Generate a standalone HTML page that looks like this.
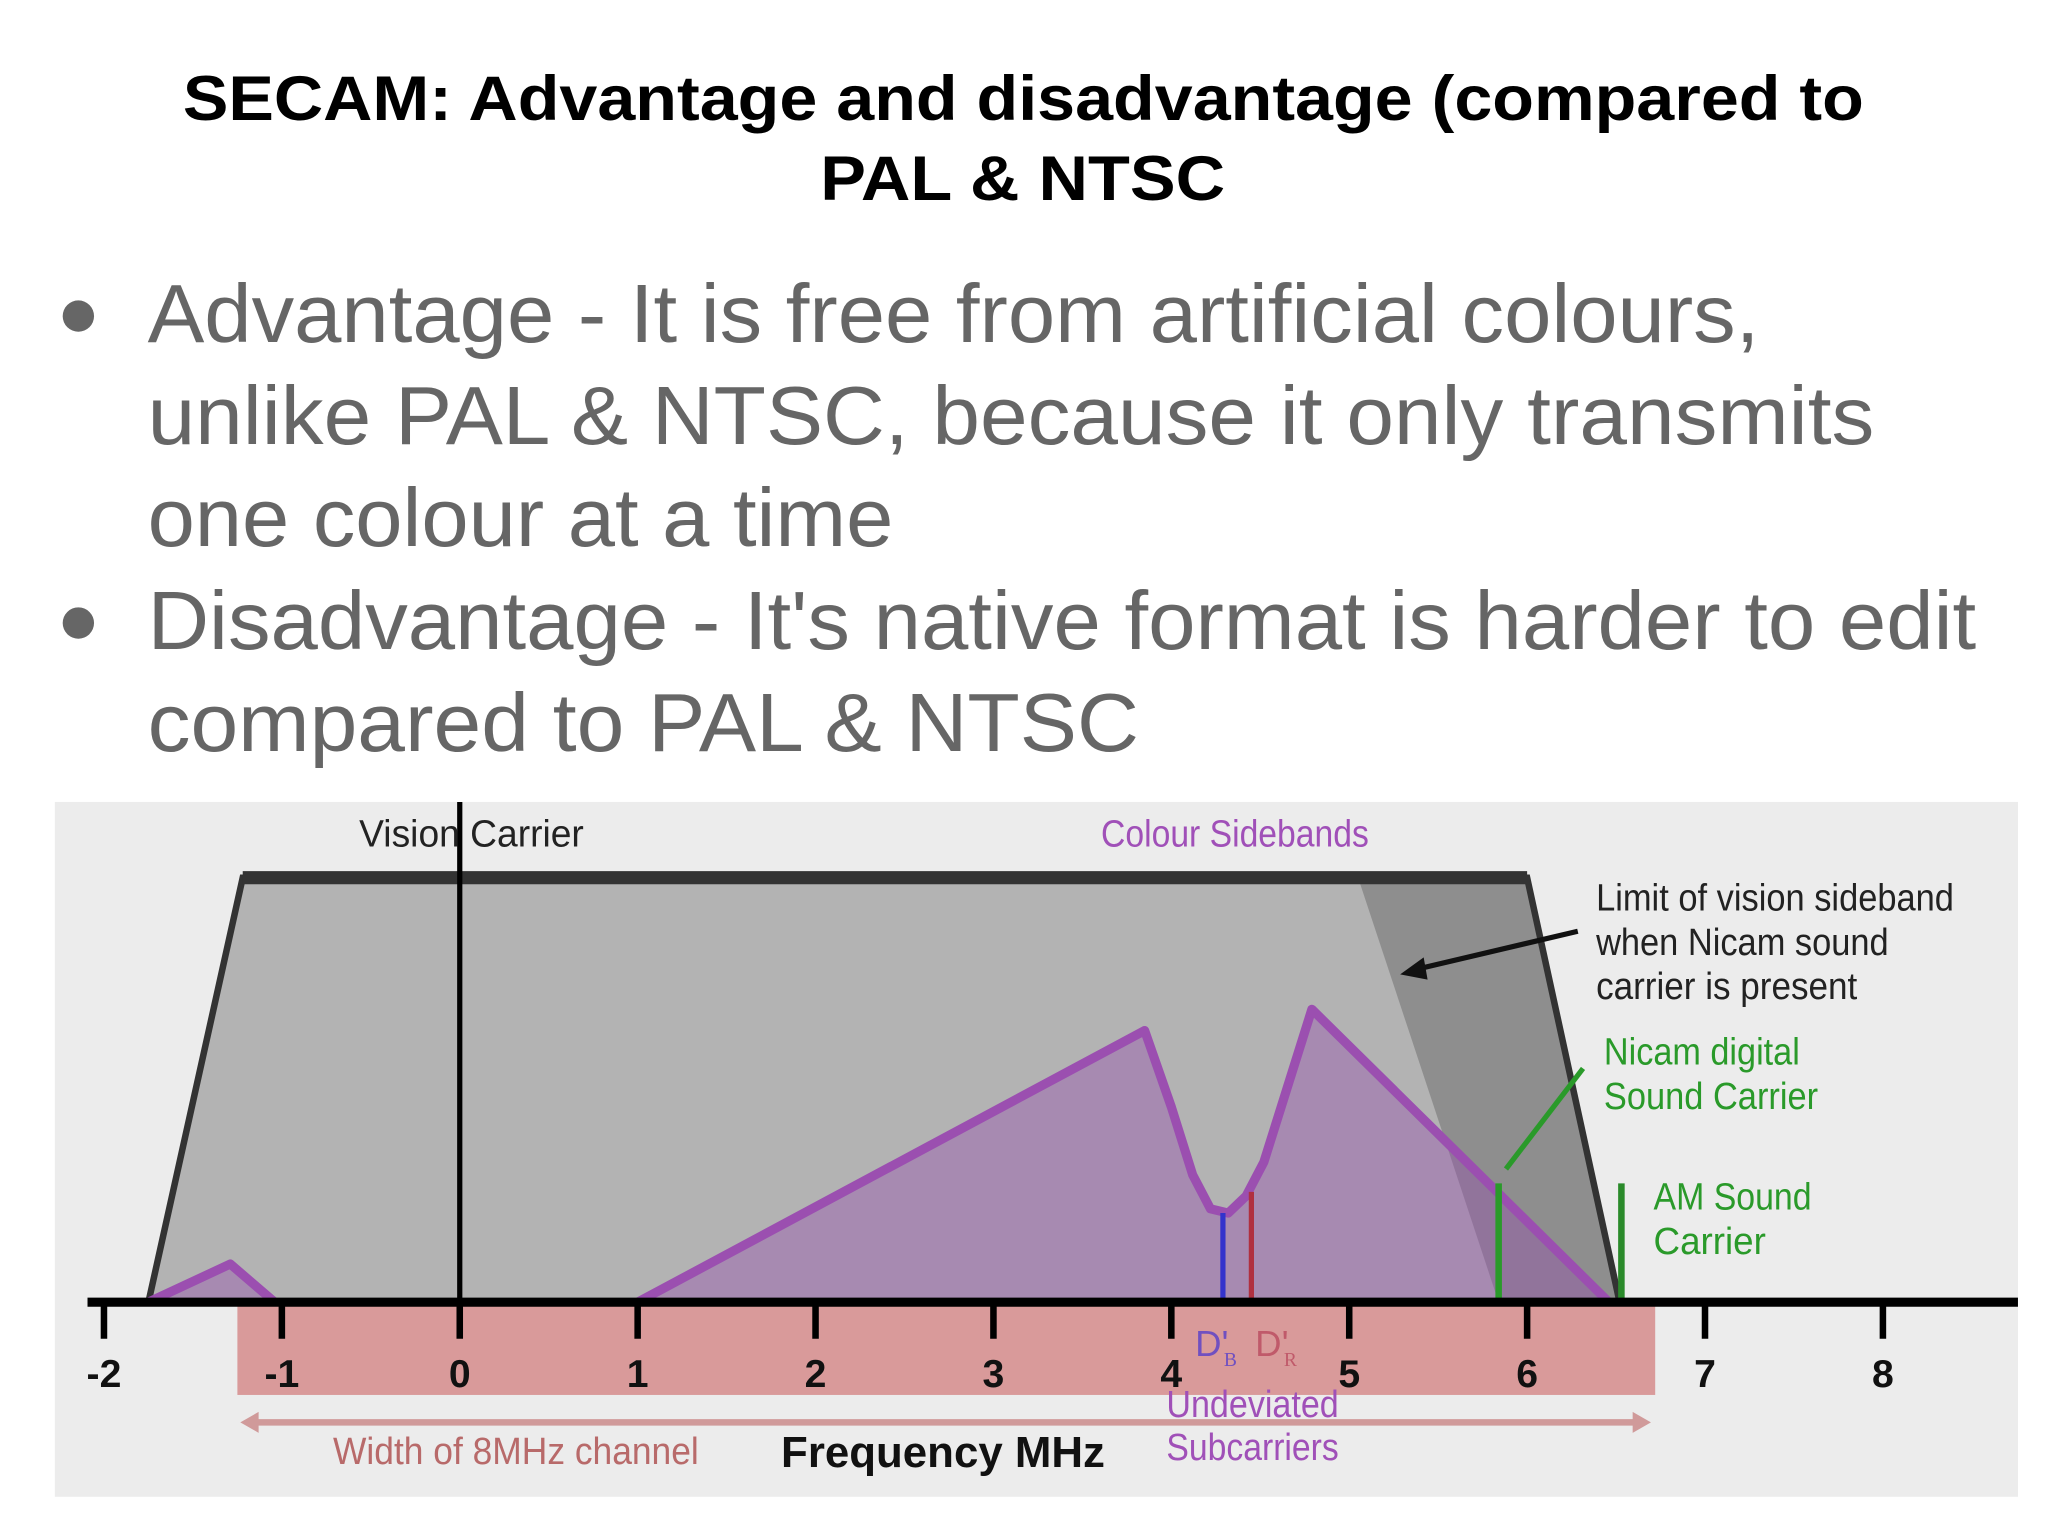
<!DOCTYPE html>
<html><head><meta charset="utf-8"><style>
html,body{margin:0;padding:0;background:#fff}
svg{display:block}
</style></head><body>
<svg width="2048" height="1536" viewBox="0 0 1568 1176" xmlns="http://www.w3.org/2000/svg">
<g font-family="Liberation Sans, sans-serif">
<text x="140" y="92" font-size="48" font-weight="bold" textLength="1287" lengthAdjust="spacingAndGlyphs" fill="#000">SECAM: Advantage and disadvantage (compared to</text>
<text x="628" y="153" font-size="48" font-weight="bold" textLength="310" lengthAdjust="spacingAndGlyphs" fill="#000">PAL &amp; NTSC</text>
<g fill="#666" font-size="63">
<circle cx="60" cy="242" r="12"/>
<text x="113" y="262" textLength="1234" lengthAdjust="spacingAndGlyphs">Advantage - It is free from artificial colours,</text>
<text x="113" y="340" textLength="1322" lengthAdjust="spacingAndGlyphs">unlike PAL &amp; NTSC, because it only transmits</text>
<text x="113" y="418" textLength="571" lengthAdjust="spacingAndGlyphs">one colour at a time</text>
<circle cx="60" cy="477" r="12"/>
<text x="113" y="497" textLength="1400" lengthAdjust="spacingAndGlyphs">Disadvantage - It's native format is harder to edit</text>
<text x="113" y="575" textLength="759" lengthAdjust="spacingAndGlyphs">compared to PAL &amp; NTSC</text>
</g>
</g>
<g id="chart"></g>
</svg>
<script>
const tickValues=[-2,-1,0,1,2,3,4,5,6,7,8];
const bandF=[-1.75,-1.22,6.0,6.52];
const nicamLimitF=[5.05,5.84];
const sidebandSmallF=[-1.75,-1.29,-1.04];
const sidebandSmallV=[0,0.09,0];
const sidebandMainF=[1.0,3.85,4.0,4.12,4.22,4.32,4.42,4.52,4.79,6.46];
const sidebandMainV=[0,0.64,0.46,0.3,0.22,0.21,0.25,0.33,0.69,0];
const subcarrierF=[4.29,4.45];
const subcarrierV=[0.21,0.26];
const nicamF=5.84, amF=6.53, soundV=0.28;
const ns='http://www.w3.org/2000/svg';
const g=document.getElementById('chart');
const X=f=>352+136.2*f;
const Y=v=>997-v*325/1.0;
function el(t,a,p){const e=document.createElementNS(ns,t);for(const k in a)e.setAttribute(k,a[k]);(p||g).appendChild(e);return e;}
let e;
e=el('rect',{x:42,y:614,width:1503,height:532,fill:'#ececec'});


e=el('rect',{x:X(-1.25),y:1000,width:X(6.72)-X(-1.25),height:68,fill:'#d99a9a'});


e=el('polygon',{points:`${X(bandF[0])},997 ${X(bandF[1])},${Y(1)} ${X(bandF[2])},${Y(1)} ${X(bandF[3])},997`,fill:'#b3b3b3'});


e=el('polygon',{points:`${X(nicamLimitF[0])},${Y(1)} ${X(bandF[2])},${Y(1)} ${X(bandF[3])},997 ${X(nicamLimitF[1])},997`,fill:'#8e8e8e'});


e=el('polyline',{points:`${X(bandF[0])},997 ${X(bandF[1])},${Y(1)} ${X(bandF[2])},${Y(1)} ${X(bandF[3])},997`,fill:'none',stroke:'#333','stroke-width':5});


e=el('line',{x1:X(bandF[1]),y1:Y(1),x2:X(bandF[2]),y2:Y(1),stroke:'#333','stroke-width':10});


function curve(F,V,name){let p=F.map((f,i)=>`${X(f)},${Y(V[i])}`).join(' ');
 let a=el('polygon',{points:p,fill:'rgba(150,80,175,0.42)'});
 
 
 let b=el('polyline',{points:p,fill:'none',stroke:'#9b4fb0','stroke-width':7,'stroke-linejoin':'round'});
 
 }
curve(sidebandSmallF,sidebandSmallV,'lower-sideband');
curve(sidebandMainF,sidebandMainV,'colour-sideband');
e=el('line',{x1:X(subcarrierF[0]),y1:Y(subcarrierV[0]),x2:X(subcarrierF[0]),y2:997,stroke:'#3333cc','stroke-width':4});


e=el('line',{x1:X(subcarrierF[1]),y1:Y(subcarrierV[1]),x2:X(subcarrierF[1]),y2:997,stroke:'#b03040','stroke-width':4});


e=el('line',{x1:X(nicamF),y1:Y(soundV),x2:X(nicamF),y2:997,stroke:'#2a9a2a','stroke-width':5});


e=el('line',{x1:1153,y1:895,x2:1212,y2:818,stroke:'#2a9a2a','stroke-width':4});


e=el('line',{x1:X(amF),y1:Y(soundV),x2:X(amF),y2:997,stroke:'#2a8a2a','stroke-width':5});


e=el('line',{x1:X(0),y1:614,x2:X(0),y2:997,stroke:'#000','stroke-width':4});


e=el('line',{x1:1208,y1:713,x2:1085,y2:742,stroke:'#111','stroke-width':4});


e=el('polygon',{points:'1072,746 1090,733 1093,750',fill:'#111'});


e=el('line',{x1:67,y1:997,x2:1545,y2:997,stroke:'#000','stroke-width':7});


tickValues.forEach(t=>{
 let k=el('line',{x1:X(t),y1:998,x2:X(t),y2:1025,stroke:'#000','stroke-width':5});
 
 
 let l=el('text',{x:X(t),y:1062,'text-anchor':'middle','font-size':30,'font-weight':'bold','font-family':'Liberation Sans Narrow, Liberation Sans, sans-serif',fill:'#111'});
 l.textContent=String(t);
 
 
});
e=el('line',{x1:195,y1:1089,x2:1253,y2:1089,stroke:'#d09a9a','stroke-width':5});


e=el('polygon',{points:'184,1089 198,1081 198,1097',fill:'#d09a9a'});


e=el('polygon',{points:'1264,1089 1250,1081 1250,1097',fill:'#d09a9a'});


const labels=[
['Vision Carrier',275,648,172,'#222','vision-carrier-label'],
['Colour Sidebands',843,648,205,'#a050b8','colour-sidebands-label'],
['Limit of vision sideband',1222,697,274,'#222','limit-label-line1'],
['when Nicam sound',1222,731,224,'#222','limit-label-line2'],
['carrier is present',1222,765,200,'#222','limit-label-line3'],
['Nicam digital',1228,815,150,'#2a9a2a','nicam-label-line1'],
['Sound Carrier',1228,849,164,'#2a9a2a','nicam-label-line2'],
['AM Sound',1266,926,121,'#2a9a2a','am-label-line1'],
['Carrier',1266,960,86,'#2a9a2a','am-label-line2'],
['Width of 8MHz channel',255,1121,280,'#b86a6a','channel-width-label'],
['Undeviated',893,1085,132,'#a050b8','undeviated-label-line1'],
['Subcarriers',893,1118,132,'#a050b8','undeviated-label-line2']];
labels.forEach(a=>{let t=el('text',{x:a[1],y:a[2],'font-size':29,textLength:a[3],lengthAdjust:'spacingAndGlyphs','font-family':'Liberation Sans Narrow, Liberation Sans, sans-serif',fill:a[4]});
 t.textContent=a[0];
 
 });
e=el('text',{x:598,y:1123,'font-size':33,'font-weight':'bold',textLength:248,lengthAdjust:'spacingAndGlyphs','font-family':'Liberation Sans Narrow, Liberation Sans, sans-serif',fill:'#111'});
e.textContent='Frequency MHz';


e=el('text',{x:915,y:1038,'font-size':28,'font-family':'Liberation Sans Narrow, Liberation Sans, sans-serif',fill:'#7050c0'});
e.textContent="D'";


e=el('text',{x:937,y:1046,'font-size':15,fill:'#7050c0'});e.textContent='B';


e=el('text',{x:961,y:1038,'font-size':28,'font-family':'Liberation Sans Narrow, Liberation Sans, sans-serif',fill:'#c05a6a'});
e.textContent="D'";


e=el('text',{x:983,y:1046,'font-size':15,fill:'#c05a6a'});e.textContent='R';


</script>
</body></html>
